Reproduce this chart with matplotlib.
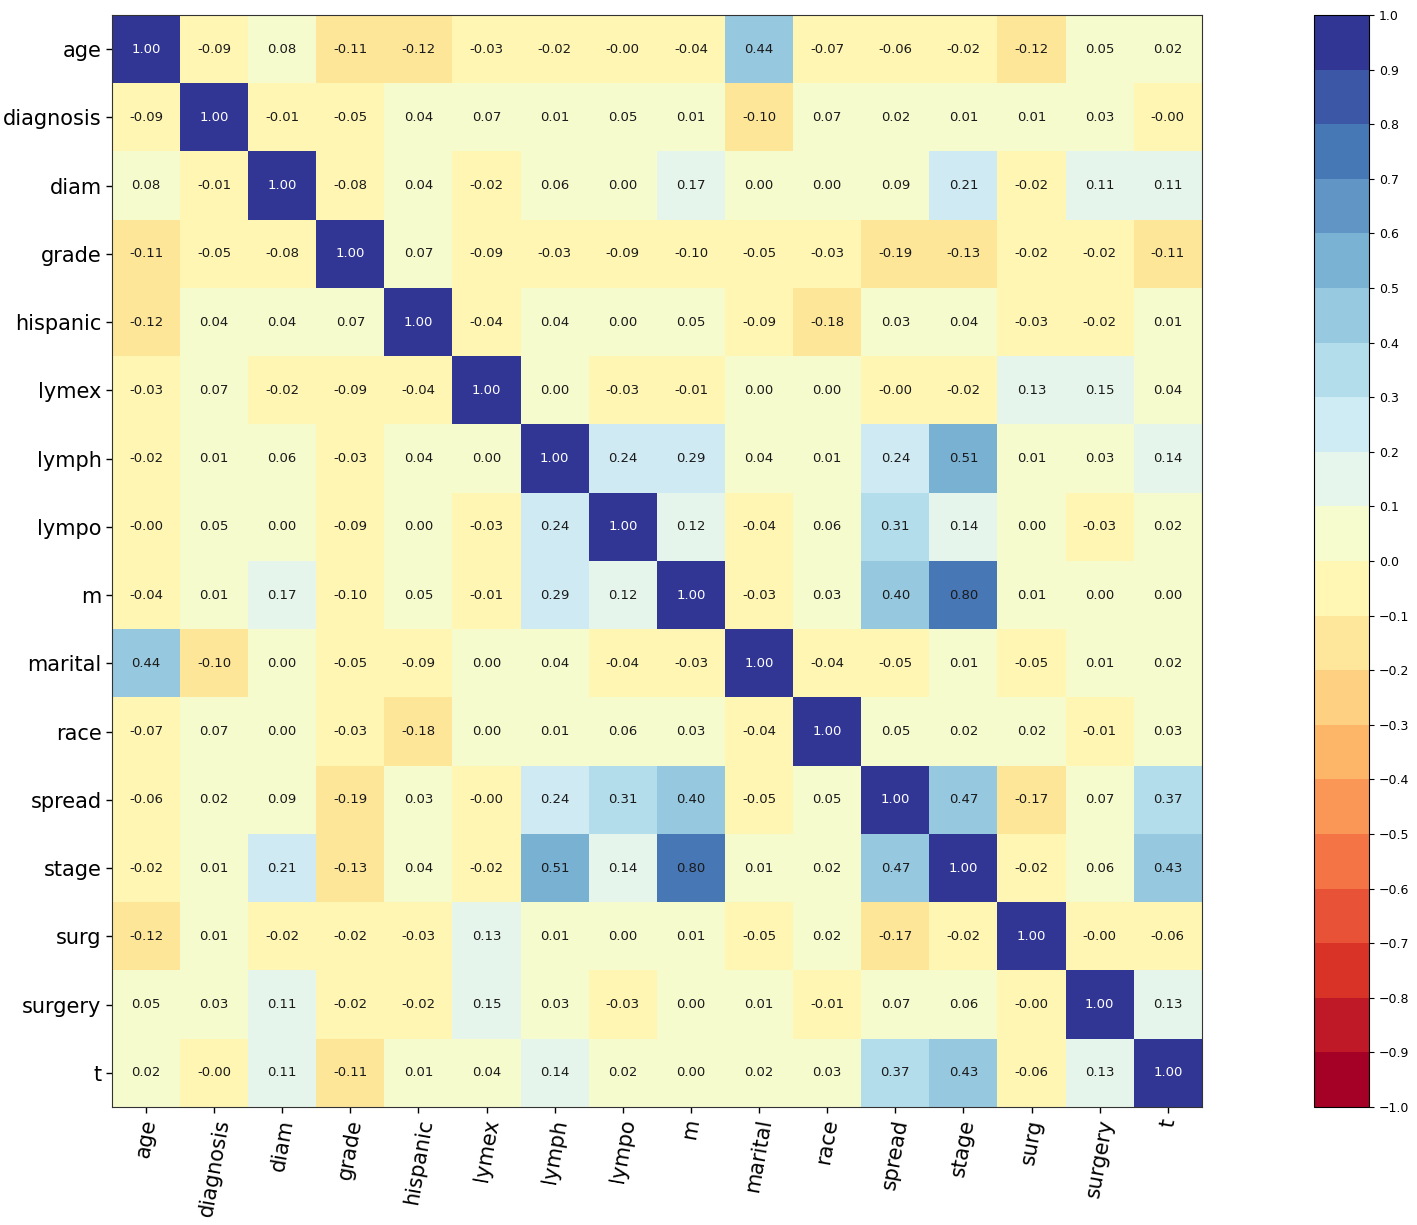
#!/usr/bin/env python3
"""Correlation heatmap of the clinical features"""

import matplotlib
matplotlib.use("Agg")
import matplotlib.pyplot as plt
import numpy as np

features = ['age', 'diagnosis', 'diam', 'grade', 'hispanic', 'lymex', 'lymph',
            'lympo', 'm', 'marital', 'race', 'spread', 'stage', 'surg',
            'surgery', 't']

# "-0.00" cells are stored as -0.001 so they fall in the negative bin;
# values sitting on a bin edge are nudged to the side the picture shows
row_age       = [1.00, -0.09, 0.08, -0.11, -0.12, -0.03, -0.02, -0.001, -0.04, 0.44, -0.07, -0.06, -0.02, -0.12, 0.05, 0.02]
row_diagnosis = [-0.09, 1.00, -0.01, -0.05, 0.04, 0.07, 0.01, 0.05, 0.01, -0.101, 0.07, 0.02, 0.01, 0.01, 0.03, -0.001]
row_diam      = [0.08, -0.01, 1.00, -0.08, 0.04, -0.02, 0.06, 0.00, 0.17, 0.00, 0.00, 0.09, 0.21, -0.02, 0.11, 0.11]
row_grade     = [-0.11, -0.05, -0.08, 1.00, 0.07, -0.09, -0.03, -0.09, -0.099, -0.05, -0.03, -0.19, -0.13, -0.02, -0.02, -0.11]
row_hispanic  = [-0.12, 0.04, 0.04, 0.07, 1.00, -0.04, 0.04, 0.00, 0.05, -0.09, -0.18, 0.03, 0.04, -0.03, -0.02, 0.01]
row_lymex     = [-0.03, 0.07, -0.02, -0.09, -0.04, 1.00, 0.00, -0.03, -0.01, 0.00, 0.00, -0.001, -0.02, 0.13, 0.15, 0.04]
row_lymph     = [-0.02, 0.01, 0.06, -0.03, 0.04, 0.00, 1.00, 0.24, 0.29, 0.04, 0.01, 0.24, 0.51, 0.01, 0.03, 0.14]
row_lympo     = [-0.001, 0.05, 0.00, -0.09, 0.00, -0.03, 0.24, 1.00, 0.12, -0.04, 0.06, 0.31, 0.14, 0.00, -0.03, 0.02]
row_m         = [-0.04, 0.01, 0.17, -0.099, 0.05, -0.01, 0.29, 0.12, 1.00, -0.03, 0.03, 0.40, 0.798, 0.01, 0.00, 0.00]
row_marital   = [0.44, -0.101, 0.00, -0.05, -0.09, 0.00, 0.04, -0.04, -0.03, 1.00, -0.04, -0.05, 0.01, -0.05, 0.01, 0.02]
row_race      = [-0.07, 0.07, 0.00, -0.03, -0.18, 0.00, 0.01, 0.06, 0.03, -0.04, 1.00, 0.05, 0.02, 0.02, -0.01, 0.03]
row_spread    = [-0.06, 0.02, 0.09, -0.19, 0.03, -0.001, 0.24, 0.31, 0.40, -0.05, 0.05, 1.00, 0.47, -0.17, 0.07, 0.37]
row_stage     = [-0.02, 0.01, 0.21, -0.13, 0.04, -0.02, 0.51, 0.14, 0.798, 0.01, 0.02, 0.47, 1.00, -0.02, 0.06, 0.43]
row_surg      = [-0.12, 0.01, -0.02, -0.02, -0.03, 0.13, 0.01, 0.00, 0.01, -0.05, 0.02, -0.17, -0.02, 1.00, -0.001, -0.06]
row_surgery   = [0.05, 0.03, 0.11, -0.02, -0.02, 0.15, 0.03, -0.03, 0.00, 0.01, -0.01, 0.07, 0.06, -0.001, 1.00, 0.13]
row_t         = [0.02, -0.001, 0.11, -0.11, 0.01, 0.04, 0.14, 0.02, 0.00, 0.02, 0.03, 0.37, 0.43, -0.06, 0.13, 1.00]

corr = np.array([row_age, row_diagnosis, row_diam, row_grade, row_hispanic,
                 row_lymex, row_lymph, row_lympo, row_m, row_marital, row_race,
                 row_spread, row_stage, row_surg, row_surgery, row_t])

cbar_ticks = np.round(np.arange(-1.0, 1.01, 0.1), 1)


def main():
    fig = plt.figure(figsize=(14.17, 12.25), dpi=100)
    ax = fig.add_axes([0.0790, 0.0963, 0.7692, 0.8914])
    cax = fig.add_axes([0.9273, 0.0963, 0.0388, 0.8914])

    cmap = plt.get_cmap('RdYlBu', 20)
    im = ax.imshow(corr, cmap=cmap, vmin=-1, vmax=1, aspect='auto',
                   interpolation='nearest')

    n = len(features)
    for i in range(n):
        for j in range(n):
            v = corr[i, j]
            color = 'white' if abs(v) >= 0.9 else '#1a1a1a'
            ax.text(j, i, f"{v:.2f}", ha='center', va='center',
                    fontsize=9.5, color=color)

    ax.set_xticks(range(n))
    ax.set_yticks(range(n))
    ax.set_xticklabels(features, rotation=80, fontsize=15)
    ax.set_yticklabels(features, fontsize=15)
    ax.tick_params(length=4, width=1)
    for sp in ax.spines.values():
        sp.set_color('#333333')

    cb = fig.colorbar(im, cax=cax, ticks=cbar_ticks)
    cb.ax.tick_params(labelsize=9)

    plt.savefig('out.png', dpi=100)
    plt.close()


if __name__ == "__main__":
    main()
